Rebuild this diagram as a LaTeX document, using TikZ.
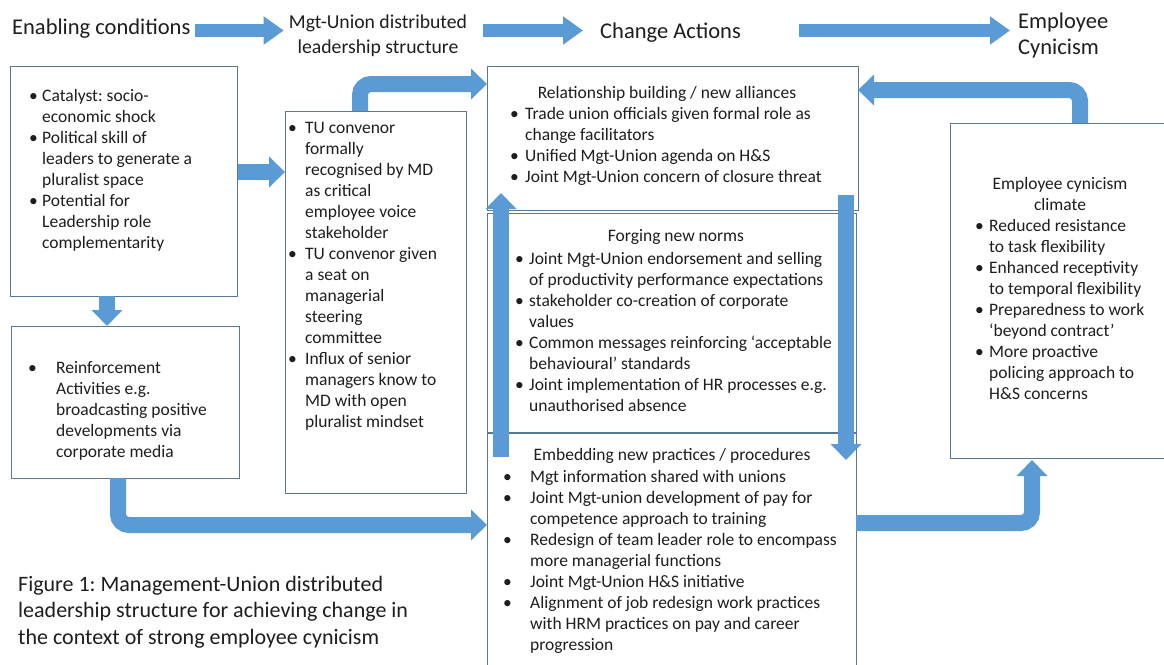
\documentclass[tikz,border=0pt]{standalone}
\usepackage{fontspec}
\setmainfont{Carlito}
\usetikzlibrary{arrows.meta,calc}
\definecolor{arrowblue}{HTML}{5B9BD5}
\definecolor{boxline}{HTML}{5A7894}
\definecolor{txt}{HTML}{1E1E1E}
\frenchspacing
\newlength\bw
\newcommand{\bfnt}{\fontsize{17.5}{21}\selectfont}
\newcommand{\hfnt}{\fontsize{22.5}{26.5}\selectfont}
\newcommand{\hfntb}{\fontsize{19.7}{25}\selectfont}
\newcommand{\itm}{\par\noindent\hangindent=\bw\hangafter=1\hbox to\bw{\strut\textbullet\hfil}\ignorespaces}
\newcommand{\blist}[2]{\vtop{\bfnt\frenchspacing\hsize=400pt\parindent=0pt\parskip=0pt\leftskip=0pt\rightskip=0pt plus 1fil\setlength\bw{#1}#2\par}}
\begin{document}
\begin{tikzpicture}[x=1pt,y=-1pt,
  box/.style={draw=boxline, line width=0.9pt, fill=white, anchor=north west, inner sep=0pt, outer sep=0pt},
  lst/.style={anchor=north west, inner sep=0pt, text=txt},
  ttl/.style={anchor=base, inner sep=0pt, text=txt, font=\bfnt},
  hdr/.style={inner sep=0pt, text=txt, font=\hfnt},
  harrow/.style={draw=arrowblue, line width=13pt, -{Triangle[width=27pt,length=20pt]}},
  barrow/.style={draw=arrowblue, line width=16pt, rounded corners=11pt, -{Triangle[width=30pt,length=16pt]}}]
\path[use as bounding box] (0,0) rectangle (1164,664);
\fill[white] (0,0) rectangle (1164,664);
\clip (0,0) rectangle (1164,664);

% headers
\node[hdr, anchor=base west] (h1) at (12,34) {Enabling conditions};
\node[hdr, font=\hfntb, anchor=base] (h2) at (378,28) {\begin{tabular}[t]{@{}c@{}}Mgt-Union distributed\\leadership structure\end{tabular}};
\node[hdr, anchor=base west] (h3) at (600,38) {Change Actions};
\node[hdr, anchor=base west] (h4) at (1018,28) {\begin{tabular}[t]{@{}l@{}}Employee\\Cynicism\end{tabular}};
\coordinate (ay) at (0,30.5);
\draw[harrow, shorten <=4pt, shorten >=5pt] (h1.east |- ay) -- (h2.west |- ay);
\draw[harrow, shorten <=16pt, shorten >=17pt] (h2.east |- ay) -- (h3.west |- ay);
\draw[harrow, shorten <=58pt, shorten >=8pt] (h3.east |- ay) -- (h4.west |- ay);

% boxes
\node[box, minimum width=227pt, minimum height=230pt] (en) at (10,66) {};
\node[box, minimum width=228pt, minimum height=152pt] (re) at (11,326) {};
\node[box, minimum width=181pt, minimum height=382pt] (tu) at (285,111) {};
\node[box, minimum width=371pt, minimum height=144pt] (rel) at (487,66) {};
\node[box, minimum width=369pt, minimum height=219pt] (forg) at (487,213) {};
\node[box, minimum width=369pt, minimum height=240pt] (emb) at (487,433) {};
\node[box, minimum width=230pt, minimum height=335pt] (cl) at (950,123) {};

% texts
\node[lst] (ten) at (29,87) {\blist{13pt}{%
\itm Catalyst: socio-\newline economic shock
\itm Political skill of\newline leaders to generate a\newline pluralist space
\itm Potential for\newline Leadership role\newline complementarity}};

\node[lst] (ttu) at (288,118.5) {\blist{17pt}{%
\itm TU convenor\newline formally\newline recognised by MD\newline as critical\newline employee voice\newline stakeholder
\itm TU convenor given\newline a seat on\newline managerial\newline steering\newline committee
\itm Influx of senior\newline managers know to\newline MD with open\newline pluralist mindset}};

\node[lst] (tre) at (28,359) {\blist{28pt}{%
\itm Reinforcement\newline Activities e.g.\newline broadcasting positive\newline developments via\newline corporate media}};

\node[ttl] (relt) at (667,98) {Relationship building / new alliances};
\node[lst] (trel) at (510,104.4) {\blist{15pt}{%
\itm Trade union officials given formal role as\newline change facilitators
\itm Unified Mgt-Union agenda on H\&S
\itm Joint Mgt-Union concern of closure threat}};

\node[ttl] (forgt) at (676,241) {Forging new norms};
\node[lst] (tforg) at (515,249.4) {\blist{14pt}{%
\itm Joint Mgt-Union endorsement and selling\newline of productivity performance expectations
\itm stakeholder co-creation of corporate\newline values
\itm Common messages reinforcing ‘acceptable\newline behavioural’ standards
\itm Joint implementation of HR processes e.g.\newline unauthorised absence}};

\node[ttl] (embt) at (672,460) {Embedding new practices / procedures};
\node[lst] (temb) at (503,467.4) {\blist{27pt}{%
\itm Mgt information shared with unions
\itm Joint Mgt-union development of pay for\newline competence approach to training
\itm Redesign of team leader role to encompass\newline more managerial functions
\itm Joint Mgt-Union H\&S initiative
\itm Alignment of job redesign work practices\newline with HRM practices on pay and career\newline progression}};

\node[ttl] (clt) at (1060,189) {\begin{tabular}[t]{@{}c@{}}Employee cynicism\\climate\end{tabular}};
\node[lst] (tcl) at (975,216.4) {\blist{14pt}{%
\itm Reduced resistance\newline to task flexibility
\itm Enhanced receptivity\newline to temporal flexibility
\itm Preparedness to work\newline ‘beyond contract’
\itm More proactive\newline policing approach to\newline H\&S concerns}};

% caption
\node[hdr, font=\fontsize{22}{26.5}\selectfont, anchor=base west] (cap) at (18,591) {\begin{tabular}[t]{@{}l@{}}Figure 1: Management-Union distributed\\leadership structure for achieving change in\\the context of strong employee cynicism\end{tabular}};

% block arrows
\coordinate (s1) at ($(en.north east)+(1,106)$);
\coordinate (e1) at ($(tu.north west)+(0,61)$);
\draw[barrow] (s1) -- (e1);
\coordinate (e2) at ($(re.north west)+(96,0)$);
\draw[barrow] (e2 |- en.south) -- (e2);
\coordinate (s3) at ($(re.south west)+(107,0)$);
\coordinate (e3) at ($(emb.north west)+(0,92)$);
\draw[barrow] (s3) |- (e3);
\coordinate (s4) at ($(tu.north west)+(75,0)$);
\coordinate (e4) at ($(rel.north west)+(0,18)$);
\draw[barrow] (s4) |- (e4);
\coordinate (s5) at ($(cl.north west)+(130,0)$);
\coordinate (e5) at ($(rel.north east)+(0,24)$);
\draw[barrow] (s5) |- (e5);
\coordinate (s6) at ($(emb.north west)+(14,24)$);
\coordinate (e6) at ($(rel.north west)+(14,127)$);
\draw[barrow] (s6) -- (e6);
\coordinate (s7) at ($(rel.north west)+(359,129)$);
\coordinate (e7) at ($(emb.north west)+(359,27)$);
\draw[barrow] (s7) -- (e7);
\coordinate (s8) at ($(emb.north east)+(0,90)$);
\coordinate (e8) at ($(cl.south west)+(82,2)$);
\draw[barrow] (s8) -| (e8);
\end{tikzpicture}
\end{document}
